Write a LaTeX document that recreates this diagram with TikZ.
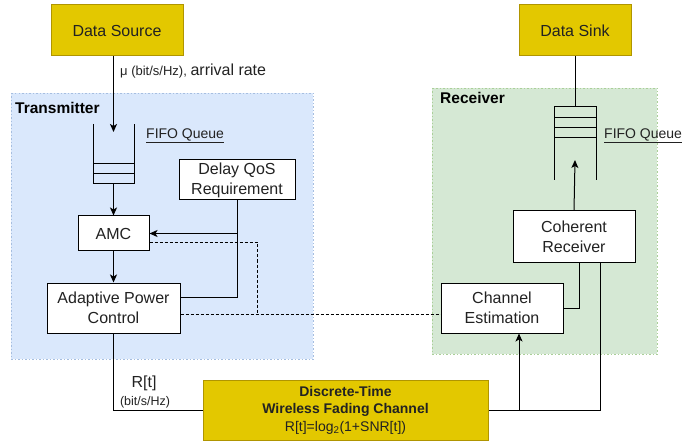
\documentclass[tikz,border=0pt]{standalone}
\usepackage{fontspec}
\setmainfont{Liberation Sans}
\usetikzlibrary{positioning,arrows.meta}
\definecolor{srcyellow}{HTML}{E3C800}
\definecolor{srcborder}{HTML}{B09500}
\definecolor{txblue}{HTML}{DAE8FC}
\definecolor{txborder}{HTML}{A6BEE0}
\definecolor{rxgreen}{HTML}{D5E8D4}
\definecolor{rxborder}{HTML}{AACF98}
\definecolor{txtgray}{HTML}{222222}
\tikzset{
  block/.style={draw, fill=white, line width=1pt, align=center, inner sep=0pt,
    text=txtgray, font=\fontsize{16}{20}\selectfont},
  yellowbox/.style={block, draw=srcborder, fill=srcyellow},
  link/.style={line width=1pt},
  arr/.style={link, -{Stealth[length=8pt,width=7pt,inset=2pt]}},
  dashline/.style={line width=0.9pt, dash pattern=on 3pt off 2pt},
  area/.style={line width=0.9pt, dash pattern=on 1.5pt off 2pt},
  arealabel/.style={anchor=west, inner sep=0pt, font=\fontsize{15.5}{18}\selectfont\bfseries},
  fifolabel/.style={anchor=west, inner sep=0pt, text=txtgray, font=\fontsize{14}{16}\selectfont}
}

\begin{document}
\begin{tikzpicture}[x=1pt,y=-1pt]
  \useasboundingbox (0,0) rectangle (684,443);

  % areas
  \draw[area, draw=txborder, fill=txblue] (11,93) rectangle (313,359);
  \draw[area, draw=rxborder, fill=rxgreen] (432,88) rectangle (657,354);
  \node[arealabel] (txlabel) at (15,108) {Transmitter};
  \node[arealabel] (rxlabel) at (440,98) {Receiver};

  % blocks
  \node[yellowbox, minimum width=132pt, minimum height=51pt] (datasource) at (117,30.5) {Data Source};
  \node[yellowbox, minimum width=112pt, minimum height=51pt] (datasink) at (575,30.5) {Data Sink};
  \node[block, minimum width=116pt, minimum height=40pt] (qos) at (237,180) {Delay QoS\\Requirement};
  \node[block, minimum width=71pt, minimum height=35pt] (amc) at (113.5,233.5) {AMC};
  \node[block, minimum width=133pt, minimum height=50pt] (apc) at (113.5,308) {Adaptive Power\\Control};
  \node[block, minimum width=122pt, minimum height=51pt] (cohrx) at (574,236.5) {Coherent\\Receiver};
  \node[block, minimum width=122pt, minimum height=50pt] (chest) at (502,308) {Channel\\Estimation};
  \node[yellowbox, minimum width=285pt, minimum height=60pt,
        font=\fontsize{14}{17.5}\selectfont] (channel) at (345.5,410)
        {\textbf{Discrete-Time}\\\textbf{Wireless Fading Channel}\\R[t]=log\textsubscript{2}(1+SNR[t])};

  % fifo queues
  \draw[link] (93,124) -- (93,184) -- (134,184) -- (134,124);
  \draw[link] (93,164) -- (134,164);
  \draw[link] (93,174) -- (134,174);
  \coordinate (txqin) at (113.5,132);
  \coordinate (txqout) at (113.5,184);
  \node[fifolabel] (txfifo) at (146,135.5) {\underline{FIFO Queue}};

  \draw[link] (554,180) -- (554,107) -- (596,107) -- (596,180);
  \draw[link] (554,118) -- (596,118);
  \draw[link] (554,128) -- (596,128);
  \draw[link] (554,138) -- (596,138);
  \coordinate (rxqtop) at (575,107);
  \coordinate (rxqin) at (575,160);
  \node[fifolabel] (rxfifo) at (604,135.5) {\underline{FIFO Queue}};

  % connectors
  \draw[arr] (datasource.south -| txqin) -- (txqin);
  \node[anchor=west, inner sep=0pt, text=txtgray] (ratelabel) at (120,71)
    {\fontsize{13}{15}\selectfont μ (bit/s/Hz), \fontsize{16}{18}\selectfont arrival rate};
  \draw[arr] (txqout) -- (amc.north);
  \draw[arr] (amc.south) -- (apc.north);
  \draw[arr] (qos.south |- amc.east) -- (amc.east);
  \draw[link] (qos.south) |- ([yshift=11pt]apc.east);
  \coordinate (dashjoin) at (257,314);
  \draw[dashline] ([yshift=-8.5pt]amc.east) -| (dashjoin);
  \draw[dashline] ([yshift=-6pt]apc.east) -- ([yshift=-6pt]chest.west);

  \draw[link] (datasink.south) -- (rxqtop);
  \draw[arr] (cohrx.north) -- (rxqin);
  \draw[link] ([xshift=5pt]cohrx.south) |- (chest.east);
  \draw[link] ([xshift=26pt]cohrx.south) |- (channel.east);
  \coordinate (chestin) at ([xshift=17pt]chest.south);
  \draw[arr] (channel.east -| chestin) -- (chestin);

  \draw[link] (apc.south) |- (channel.west);
  \node[inner sep=0pt, text=txtgray, font=\fontsize{16}{18}\selectfont] (rtlabel) at (144,383) {R[t]};
  \node[inner sep=0pt, text=txtgray, font=\fontsize{12.5}{14}\selectfont] (unitlabel) at (145,402) {(bit/s/Hz)};
\end{tikzpicture}
\end{document}
